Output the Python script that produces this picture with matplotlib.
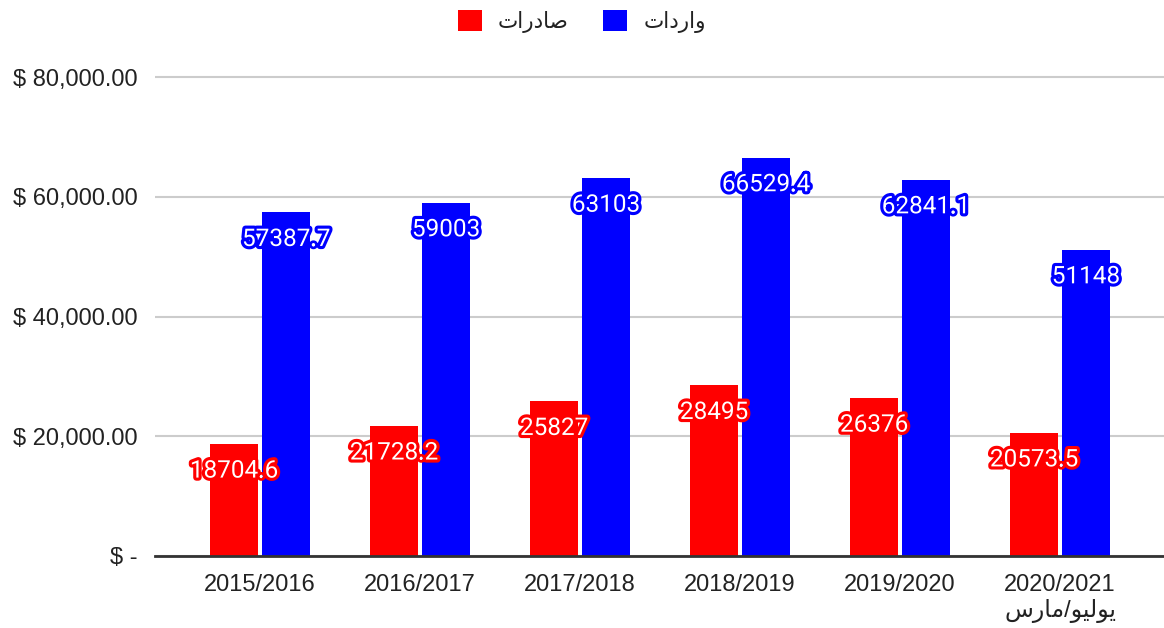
import matplotlib
matplotlib.use('Agg')
import matplotlib.pyplot as plt
import matplotlib.patheffects as pe
from matplotlib.ticker import FuncFormatter
import numpy as np

# Arabic is written in presentation forms, visual order (matplotlib does no shaping)
exports_name = '\uFE95\uFE8D\uFEAD\uFEA9\uFE8E\uFEBB'   # صادرات
imports_name = '\uFE95\uFE8D\uFEA9\uFEAD\uFE8D\uFEED'   # واردات
period_note = '\uFEB1\uFEAD\uFE8E\uFEE3/\uFEEE\uFEF4\uFEDF\uFEEE\uFEF3'  # يوليو/مارس

years = ['2015/2016', '2016/2017', '2017/2018', '2018/2019', '2019/2020',
         '2020/2021\n' + period_note]
exports = [18704.6, 21728.2, 25827, 28495, 26376, 20573.5]
imports = [57387.7, 59003, 63103, 66529.4, 62841.1, 51148]
yticks = [0, 20000, 40000, 60000, 80000]

RED = '#ff0000'
BLUE = '#0000ff'
fonts = ['Liberation Sans', 'DejaVu Sans']

fig = plt.figure(figsize=(11.64, 6.28), dpi=100)
ax = fig.add_axes([155 / 1164, 1 - 556 / 628, 1 - 155 / 1164, (556 - 70) / 628])

x = np.arange(len(years))
w = 0.3
off = 0.1625
b1 = ax.bar(x - off, exports, w, color=RED, label=exports_name, zorder=3)
b2 = ax.bar(x + off, imports, w, color=BLUE, label=imports_name, zorder=3)

# value labels inside the top of each bar
for bars, vals, col in [(b1, exports, RED), (b2, imports, BLUE)]:
    for r, v in zip(bars, vals):
        ax.annotate(f'{v:g}', (r.get_x() + r.get_width() / 2, v),
                    xytext=(0, -19.5), textcoords='offset points',
                    ha='center', va='center', fontsize=17.5, family='Roboto',
                    color='white', zorder=5,
                    path_effects=[pe.withStroke(linewidth=4.5, foreground=col)])

ax.set_xlim((155 - 260) / 160, (1164 - 260) / 160)
ax.set_ylim(0, 80000 * (556 - 70) / 479)
ax.set_yticks(yticks)
ax.yaxis.set_major_formatter(FuncFormatter(lambda v, p: '$ -' if v == 0 else f'$ {v:,.2f}'))
ax.set_xticks(x)
ax.set_xticklabels(years, family=fonts, fontsize=17, color='#222222', linespacing=1.15)
for lbl in ax.get_yticklabels():
    lbl.set_family(fonts)
    lbl.set_fontsize(17)
    lbl.set_color('#222222')

ax.tick_params(axis='y', length=0, pad=12.5)
ax.tick_params(axis='x', length=0, pad=13)
ax.grid(axis='y', color='#cccccc', linewidth=1.5, zorder=0)
for s in ['top', 'right', 'left']:
    ax.spines[s].set_visible(False)
ax.spines['bottom'].set_color('#333333')
ax.spines['bottom'].set_linewidth(2)
ax.spines['bottom'].set_zorder(4)

fig.legend(loc='upper center', bbox_to_anchor=(0.5, 1.015), ncol=2, frameon=False,
           prop={'family': fonts, 'size': 15.5}, handlelength=1.1, handleheight=1.1,
           handletextpad=0.75, columnspacing=1.6, labelcolor='#222222')

fig.savefig('out.png', dpi=100)
